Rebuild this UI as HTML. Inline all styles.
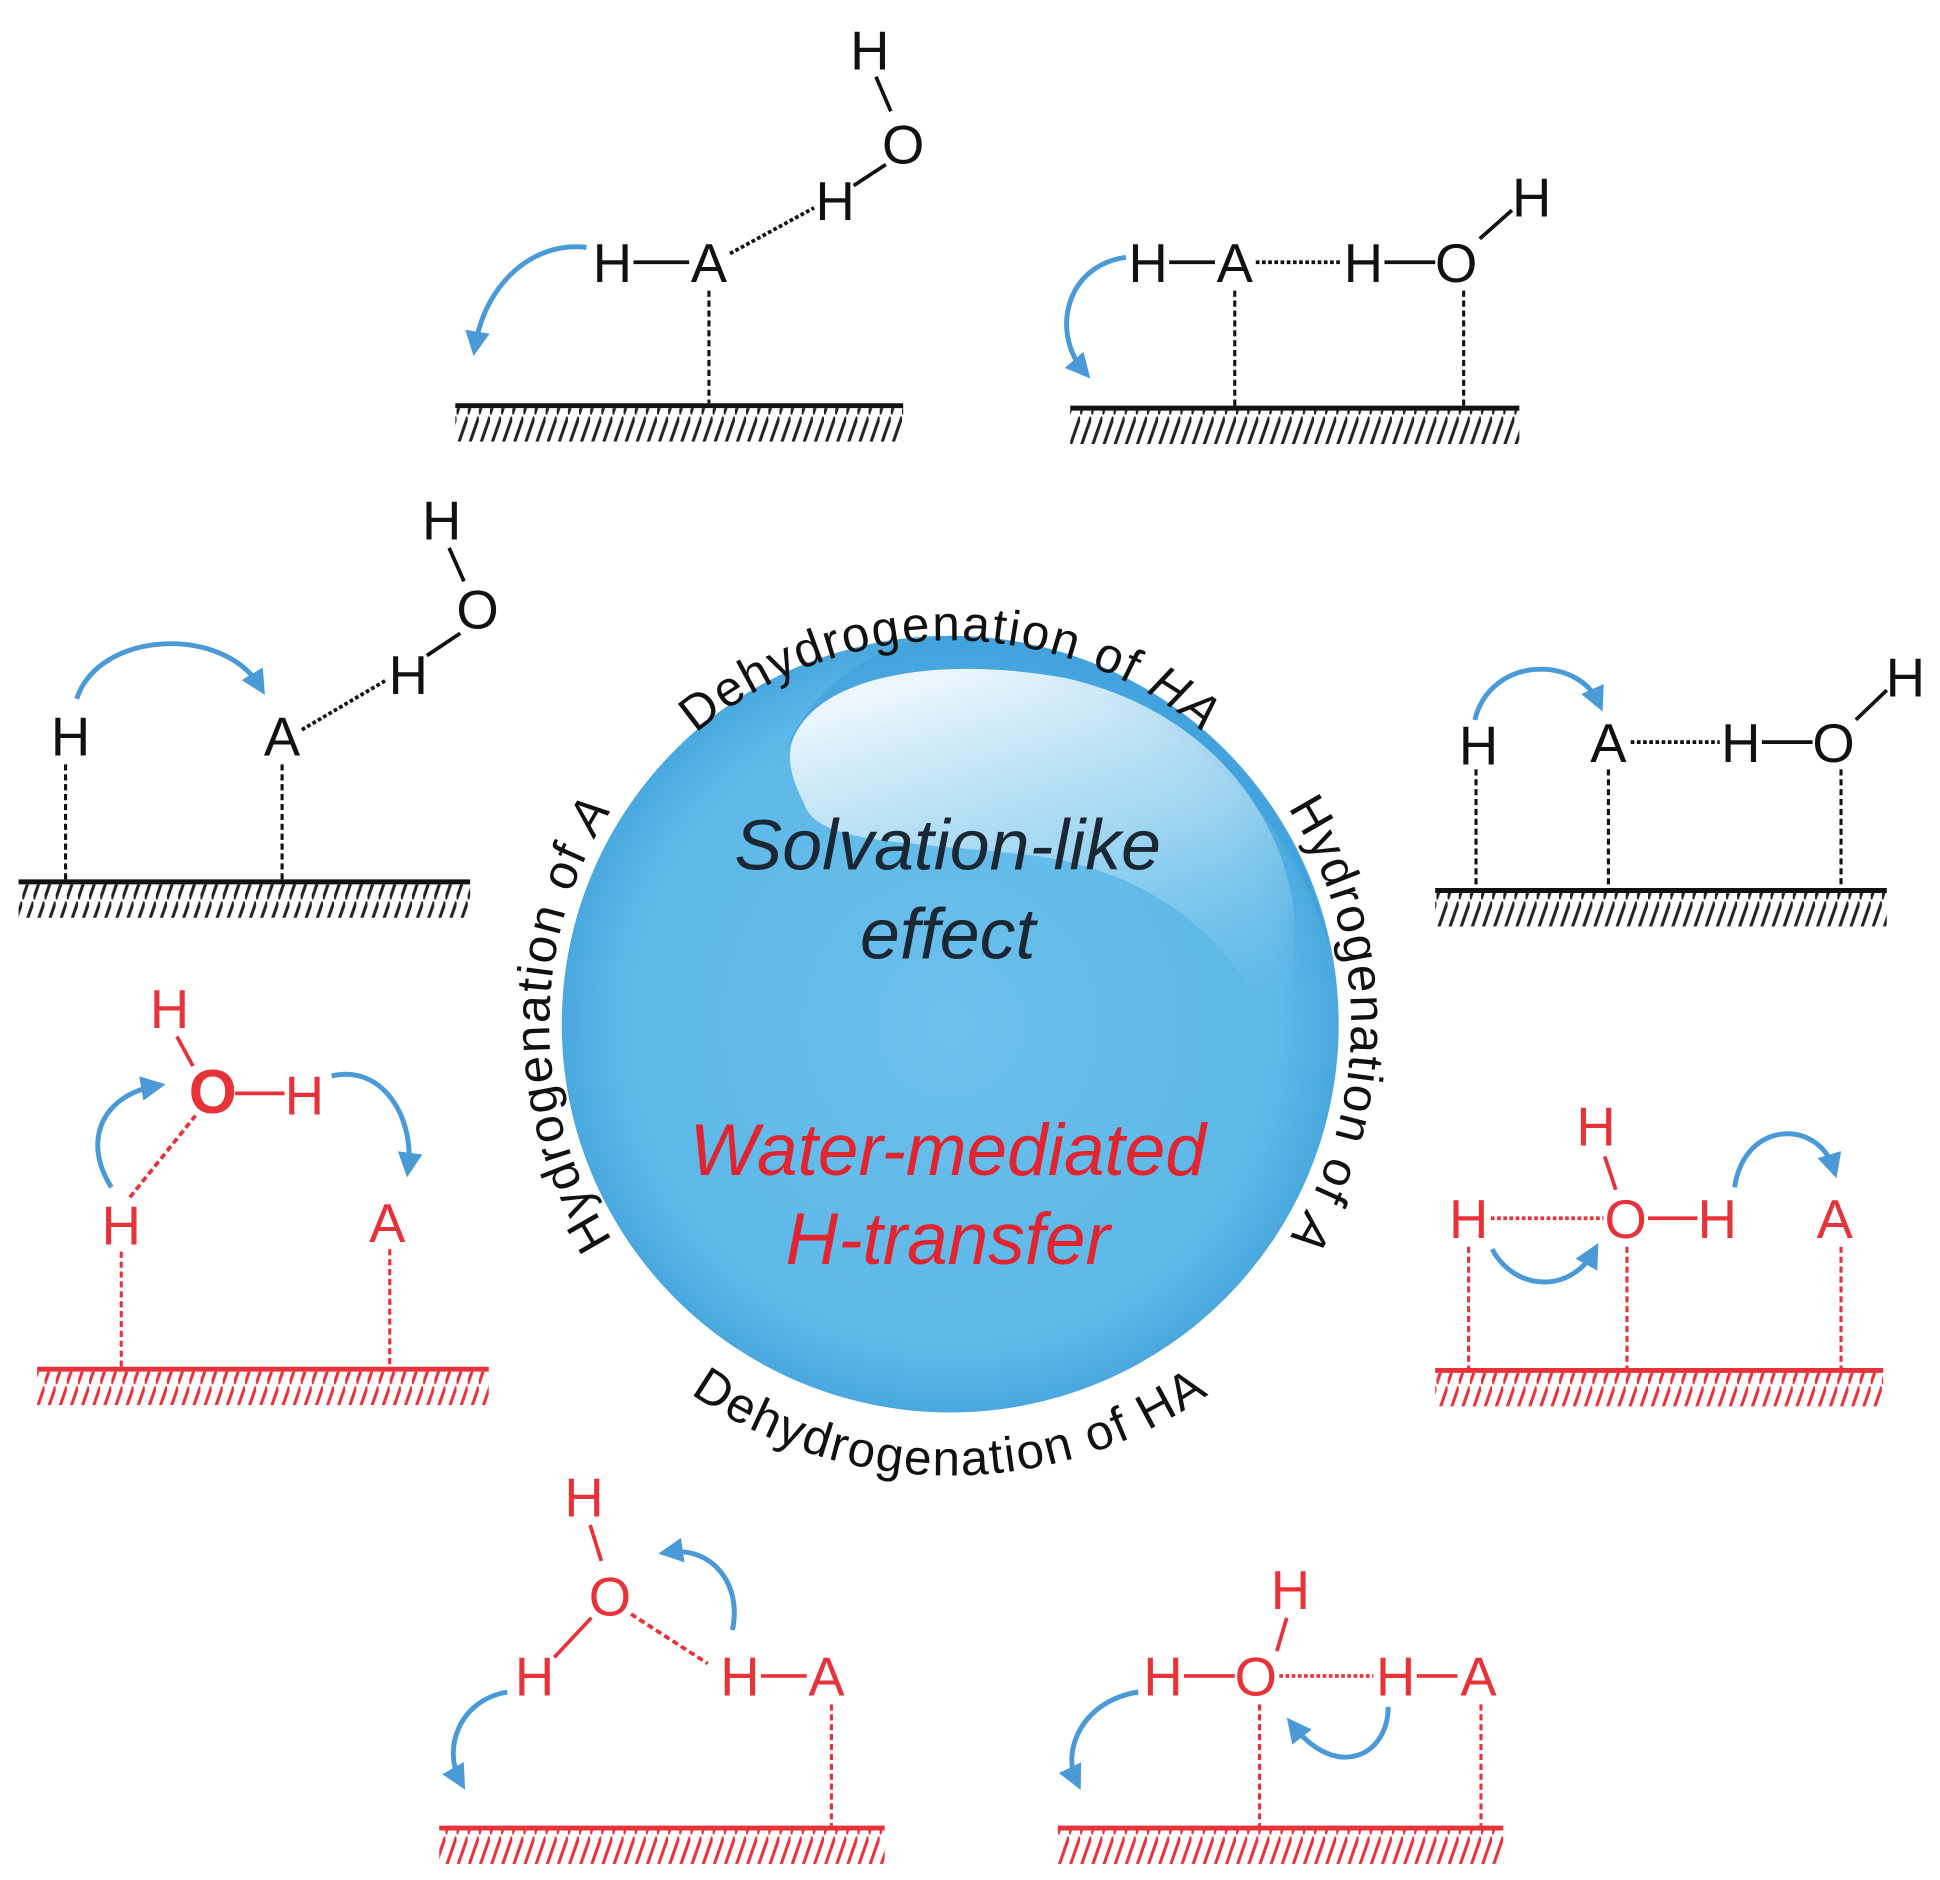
<!DOCTYPE html>
<html><head><meta charset="utf-8"><style>
html,body{margin:0;padding:0;background:#fff}
svg{display:block}
text{font-family:"Liberation Sans",sans-serif}
</style></head><body>
<svg width="1940" height="1880" viewBox="0 0 1568 1520" preserveAspectRatio="none" xmlns="http://www.w3.org/2000/svg">
<defs>
<pattern id="hk" width="9" height="28" patternUnits="userSpaceOnUse"><line x1="0" y1="27" x2="9" y2="1" stroke="#222" stroke-width="2.5"/></pattern>
<pattern id="hr" width="9" height="28" patternUnits="userSpaceOnUse"><line x1="0" y1="27" x2="9" y2="1" stroke="#e8323a" stroke-width="2.5"/></pattern>
<marker id="ah" viewBox="0 0 10 10" refX="6" refY="5" markerWidth="5" markerHeight="5" orient="auto"><path d="M0,0 L10,5 L0,10 z" fill="#4a9ad8"/></marker>
<radialGradient id="bg" cx="0.5" cy="0.5" r="0.5"><stop offset="0" stop-color="#6cc0ec"/><stop offset="0.85" stop-color="#5db8e8"/><stop offset="1" stop-color="#4aa8df"/></radialGradient>
<linearGradient id="hl" x1="0.3" y1="0" x2="0.7" y2="1"><stop offset="0" stop-color="#ffffff" stop-opacity="0.9"/><stop offset="0.5" stop-color="#cdeaf8" stop-opacity="0.6"/><stop offset="1" stop-color="#8fd0f2" stop-opacity="0"/></linearGradient>
<path id="pTop" d="M 469,944 A 318 318 0 1 1 1067,944"/>
<path id="pLeft" d="M 768,1152 A 324 324 0 0 1 768,504"/>
<path id="pRight" d="M 768,504 A 324 324 0 0 1 768,1152"/>
<path id="pBot" d="M 403,828 A 365 365 0 0 0 1133,828"/>
</defs>

<!-- sphere -->
<circle cx="768" cy="828" r="314" fill="url(#bg)"/>
<path d="M 768,514 A 314 314 0 0 1 1075,770 C 1040,640 940,560 800,545 C 700,540 640,580 630,620 C 650,560 700,520 768,514 z" fill="#3d9fda" opacity="0.6"/>
<path d="M 640,600 C 660,545 760,530 860,548 C 960,570 1030,640 1045,730 C 1050,780 1040,830 1030,840 C 1000,760 930,700 820,690 C 720,680 660,680 650,650 C 640,630 636,615 640,600 z" fill="url(#hl)"/>

<text font-size="40" fill="#111" letter-spacing="1.5"><textPath href="#pTop" startOffset="50%" text-anchor="middle">Dehydrogenation of <tspan font-style="italic">HA</tspan></textPath></text>
<text font-size="40" fill="#111" letter-spacing="1.5"><textPath href="#pLeft" startOffset="50%" text-anchor="middle">Hydrogenation of <tspan font-style="italic">A</tspan></textPath></text>
<text font-size="40" fill="#111" letter-spacing="1.5"><textPath href="#pRight" startOffset="50%" text-anchor="middle">Hydrogenation of <tspan font-style="italic">A</tspan></textPath></text>
<text font-size="40" fill="#111" letter-spacing="1.5"><textPath href="#pBot" startOffset="50%" text-anchor="middle">Dehydrogenation of HA</textPath></text>

<g font-style="italic" text-anchor="middle">
<text x="766" y="703" fill="#1b2733" font-size="58">Solvation-like</text>
<text x="766" y="775" fill="#1b2733" font-size="58">effect</text>
<text x="766" y="950" fill="#e02530" font-size="59">Water-mediated</text>
<text x="766" y="1022" fill="#e02530" font-size="59">H-transfer</text>
</g>

<g font-size="44" text-anchor="middle">
<!-- Panel 1 -->
<g fill="#111" stroke="none">
<text x="495" y="228">H</text><text x="573" y="228">A</text><text x="675" y="178">H</text><text x="730" y="132">O</text><text x="703" y="56">H</text>
</g>
<g stroke="#111" stroke-width="3">
<line x1="512" y1="212" x2="557" y2="212"/><line x1="690" y1="150" x2="716" y2="133"/><line x1="708" y1="62" x2="720" y2="90"/>
<line x1="590" y1="205" x2="658" y2="168" stroke-dasharray="3,2"/>
<line x1="573" y1="235" x2="573" y2="326" stroke-dasharray="5,3" stroke-width="2.5"/>
<line x1="368" y1="328" x2="730" y2="328" stroke-width="4"/>
</g>
<rect x="368" y="330" width="362" height="27" fill="url(#hk)"/>
<path d="M 474,200 C 430,195 392,230 384,280" fill="none" stroke="#4a9ad8" stroke-width="4" marker-end="url(#ah)"/>

<!-- Panel 2 -->
<g fill="#111">
<text x="928" y="228">H</text><text x="998" y="228">A</text><text x="1102" y="228">H</text><text x="1177" y="228">O</text><text x="1238" y="175">H</text>
</g>
<g stroke="#111" stroke-width="3">
<line x1="945" y1="212" x2="982" y2="212"/><line x1="1119" y1="212" x2="1160" y2="212"/><line x1="1196" y1="193" x2="1222" y2="170"/>
<line x1="1015" y1="212" x2="1085" y2="212" stroke-dasharray="3,2"/>
<line x1="998" y1="235" x2="998" y2="328" stroke-dasharray="5,3" stroke-width="2.5"/>
<line x1="1183" y1="235" x2="1183" y2="328" stroke-dasharray="5,3" stroke-width="2.5"/>
<line x1="865" y1="330" x2="1228" y2="330" stroke-width="4"/>
</g>
<rect x="865" y="332" width="363" height="27" fill="url(#hk)"/>
<path d="M 910,208 C 860,215 850,270 876,300" fill="none" stroke="#4a9ad8" stroke-width="4" marker-end="url(#ah)"/>

<!-- Panel 3 -->
<g fill="#111">
<text x="57" y="611">H</text><text x="228" y="611">A</text><text x="330" y="561">H</text><text x="386" y="508">O</text><text x="357" y="436">H</text>
</g>
<g stroke="#111" stroke-width="3">
<line x1="345" y1="530" x2="372" y2="512"/><line x1="363" y1="443" x2="375" y2="470"/>
<line x1="244" y1="590" x2="312" y2="550" stroke-dasharray="3,2"/>
<line x1="53" y1="618" x2="53" y2="712" stroke-dasharray="5,3" stroke-width="2.5"/>
<line x1="228" y1="618" x2="228" y2="712" stroke-dasharray="5,3" stroke-width="2.5"/>
<line x1="15" y1="713" x2="380" y2="713" stroke-width="4"/>
</g>
<rect x="15" y="715" width="365" height="27" fill="url(#hk)"/>
<path d="M 62,565 C 80,510 180,505 210,555" fill="none" stroke="#4a9ad8" stroke-width="4" marker-end="url(#ah)"/>

<!-- Panel 4 -->
<g fill="#111">
<text x="1195" y="618">H</text><text x="1300" y="616">A</text><text x="1407" y="616">H</text><text x="1482" y="616">O</text><text x="1540" y="563">H</text>
</g>
<g stroke="#111" stroke-width="3">
<line x1="1424" y1="600" x2="1465" y2="600"/><line x1="1500" y1="582" x2="1525" y2="558"/>
<line x1="1318" y1="600" x2="1390" y2="600" stroke-dasharray="3,2"/>
<line x1="1193" y1="622" x2="1193" y2="718" stroke-dasharray="5,3" stroke-width="2.5"/>
<line x1="1300" y1="622" x2="1300" y2="718" stroke-dasharray="5,3" stroke-width="2.5"/>
<line x1="1488" y1="622" x2="1488" y2="718" stroke-dasharray="5,3" stroke-width="2.5"/>
<line x1="1160" y1="720" x2="1525" y2="720" stroke-width="4"/>
</g>
<rect x="1160" y="722" width="365" height="27" fill="url(#hk)"/>
<path d="M 1192,582 C 1205,530 1275,530 1292,568" fill="none" stroke="#4a9ad8" stroke-width="4" marker-end="url(#ah)"/>

<!-- Panel 5 (red) -->
<g fill="#e8323a">
<text x="137" y="831">H</text><text x="172" y="900" font-size="50" font-weight="bold">O</text><text x="246" y="901">H</text><text x="98" y="1006">H</text><text x="313" y="1004">A</text>
</g>
<g stroke="#e8323a" stroke-width="3">
<line x1="190" y1="884" x2="230" y2="884"/><line x1="143" y1="838" x2="156" y2="862"/>
<line x1="105" y1="968" x2="158" y2="902" stroke-dasharray="5,3"/>
<line x1="98" y1="1012" x2="98" y2="1105" stroke-dasharray="5,3" stroke-width="2.5"/>
<line x1="315" y1="1010" x2="315" y2="1105" stroke-dasharray="5,3" stroke-width="2.5"/>
<line x1="30" y1="1107" x2="395" y2="1107" stroke-width="4"/>
</g>
<rect x="30" y="1109" width="365" height="27" fill="url(#hr)"/>
<path d="M 90,960 C 65,920 85,885 126,878" fill="none" stroke="#4a9ad8" stroke-width="4" marker-end="url(#ah)"/>
<path d="M 268,870 C 310,860 335,905 330,944" fill="none" stroke="#4a9ad8" stroke-width="4" marker-end="url(#ah)"/>

<!-- Panel 6 (red) -->
<g fill="#e8323a">
<text x="1290" y="926">H</text><text x="1314" y="1001">O</text><text x="1388" y="1001">H</text><text x="1187" y="1001">H</text><text x="1483" y="1001">A</text>
</g>
<g stroke="#e8323a" stroke-width="3">
<line x1="1332" y1="985" x2="1372" y2="985"/><line x1="1297" y1="935" x2="1306" y2="962"/>
<line x1="1205" y1="985" x2="1296" y2="985" stroke-dasharray="3,2"/>
<line x1="1187" y1="1008" x2="1187" y2="1106" stroke-dasharray="5,3" stroke-width="2.5"/>
<line x1="1315" y1="1008" x2="1315" y2="1106" stroke-dasharray="5,3" stroke-width="2.5"/>
<line x1="1488" y1="1008" x2="1488" y2="1106" stroke-dasharray="5,3" stroke-width="2.5"/>
<line x1="1160" y1="1108" x2="1522" y2="1108" stroke-width="4"/>
</g>
<rect x="1160" y="1110" width="362" height="27" fill="url(#hr)"/>
<path d="M 1206,1010 C 1225,1045 1270,1045 1288,1012" fill="none" stroke="#4a9ad8" stroke-width="4" marker-end="url(#ah)"/>
<path d="M 1402,960 C 1410,905 1470,905 1482,945" fill="none" stroke="#4a9ad8" stroke-width="4" marker-end="url(#ah)"/>

<!-- Panel 7 (red) -->
<g fill="#e8323a">
<text x="472" y="1226">H</text><text x="493" y="1306">O</text><text x="432" y="1371">H</text><text x="598" y="1371">H</text><text x="668" y="1371">A</text>
</g>
<g stroke="#e8323a" stroke-width="3">
<line x1="615" y1="1355" x2="652" y2="1355"/><line x1="477" y1="1233" x2="486" y2="1262"/><line x1="448" y1="1340" x2="478" y2="1308"/>
<line x1="510" y1="1305" x2="572" y2="1345" stroke-dasharray="5,3"/>
<line x1="672" y1="1378" x2="672" y2="1476" stroke-dasharray="5,3" stroke-width="2.5"/>
<line x1="355" y1="1478" x2="715" y2="1478" stroke-width="4"/>
</g>
<rect x="355" y="1480" width="360" height="27" fill="url(#hr)"/>
<path d="M 592,1318 C 600,1280 575,1250 540,1255" fill="none" stroke="#4a9ad8" stroke-width="4" marker-end="url(#ah)"/>
<path d="M 410,1368 C 370,1375 358,1415 372,1440" fill="none" stroke="#4a9ad8" stroke-width="4" marker-end="url(#ah)"/>

<!-- Panel 8 (red) -->
<g fill="#e8323a">
<text x="1043" y="1301">H</text><text x="1015" y="1371">O</text><text x="940" y="1371">H</text><text x="1128" y="1371">H</text><text x="1195" y="1371">A</text>
</g>
<g stroke="#e8323a" stroke-width="3">
<line x1="957" y1="1355" x2="998" y2="1355"/><line x1="1145" y1="1355" x2="1178" y2="1355"/><line x1="1040" y1="1308" x2="1032" y2="1335"/>
<line x1="1034" y1="1355" x2="1110" y2="1355" stroke-dasharray="3,2"/>
<line x1="1018" y1="1378" x2="1018" y2="1476" stroke-dasharray="5,3" stroke-width="2.5"/>
<line x1="1197" y1="1378" x2="1197" y2="1476" stroke-dasharray="5,3" stroke-width="2.5"/>
<line x1="855" y1="1478" x2="1215" y2="1478" stroke-width="4"/>
</g>
<rect x="855" y="1480" width="360" height="27" fill="url(#hr)"/>
<path d="M 920,1368 C 875,1375 858,1415 870,1440" fill="none" stroke="#4a9ad8" stroke-width="4" marker-end="url(#ah)"/>
<path d="M 1122,1380 C 1122,1420 1080,1440 1045,1395" fill="none" stroke="#4a9ad8" stroke-width="4" marker-end="url(#ah)"/>
</g>
</svg>
</body></html>
